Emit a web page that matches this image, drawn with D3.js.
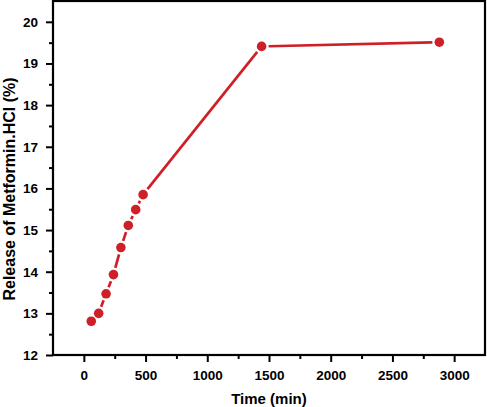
<!DOCTYPE html>
<html lang="en">
<head>
  <meta charset="UTF-8">
  <title>Release of Metformin.HCl</title>
  <script src="https://d3js.org/d3.v7.min.js"></script>
  <style>
    body { margin: 0; background: #fff; }
    svg { display: block; font-family: "Liberation Sans", Arial, sans-serif; font-weight: bold; }
    .axis path { display: none; }
    .axis line { stroke: #000; stroke-width: 2; }
    .axis text { font-size: 13.5px; font-weight: bold; fill: #000; font-family: "Liberation Sans", Arial, sans-serif; }
  </style>
</head>
<body>
  <svg id="chart" width="487" height="407"></svg>

  <script>
    // release data
    const timeMin = [60, 120, 180, 240, 300, 360, 420, 480, 1440, 2880];
    const releasePct = [12.81, 13.0, 13.47, 13.93, 14.58, 15.11, 15.49, 15.85, 19.41, 19.51];
    const xTicks = [0, 500, 1000, 1500, 2000, 2500, 3000];
    const yTicks = [12, 13, 14, 15, 16, 17, 18, 19, 20];

    const red = "#cf1f28";
    const svg = d3.select("#chart");
    const margin = { top: 1, right: 2, bottom: 52, left: 53 };
    const width = 487 - margin.left - margin.right;
    const height = 407 - margin.top - margin.bottom;

    const x = d3.scaleLinear().domain([-250, 3250]).range([margin.left, margin.left + width]);
    const y = d3.scaleLinear().domain([12, 20.5]).range([margin.top + height, margin.top]);

    // minor ticks halfway between the major ones
    const xMinor = xTicks.map(d => d + 250).filter(d => d < 3250);
    const yMinor = yTicks.map(d => d + 0.5).filter(d => d < 20.5);

    svg.append("g")
      .attr("class", "axis")
      .attr("transform", `translate(0,${margin.top + height})`)
      .call(d3.axisBottom(x).tickValues(xTicks).tickSize(7).tickPadding(8).tickFormat(d3.format("d")));

    svg.append("g")
      .attr("class", "axis")
      .attr("transform", `translate(0,${margin.top + height})`)
      .call(d3.axisBottom(x).tickValues(xMinor).tickSize(4).tickFormat(""));

    svg.append("g")
      .attr("class", "axis")
      .attr("transform", `translate(${margin.left},0)`)
      .call(d3.axisLeft(y).tickValues(yTicks).tickSize(7).tickPadding(8).tickFormat(d3.format("d")));

    svg.append("g")
      .attr("class", "axis")
      .attr("transform", `translate(${margin.left},0)`)
      .call(d3.axisLeft(y).tickValues(yMinor).tickSize(4).tickFormat(""));

    // frame
    svg.append("rect")
      .attr("x", margin.left)
      .attr("y", margin.top)
      .attr("width", width)
      .attr("height", height)
      .attr("fill", "none")
      .attr("stroke", "#000")
      .attr("stroke-width", 2.2);

    // line segments with a gap around each symbol
    const r = 4.8, gap = 7;
    const pts = timeMin.map((t, i) => [x(t), y(releasePct[i])]);
    for (let i = 0; i < pts.length - 1; i++) {
      const [x0, y0] = pts[i], [x1, y1] = pts[i + 1];
      const len = Math.hypot(x1 - x0, y1 - y0);
      if (len <= 2 * gap) continue;
      const ux = (x1 - x0) / len, uy = (y1 - y0) / len;
      svg.append("line")
        .attr("x1", x0 + ux * gap).attr("y1", y0 + uy * gap)
        .attr("x2", x1 - ux * gap).attr("y2", y1 - uy * gap)
        .attr("stroke", red)
        .attr("stroke-width", 2.7);
    }

    svg.selectAll("circle.pt")
      .data(timeMin)
      .enter()
      .append("circle")
      .attr("class", "pt")
      .attr("cx", d => x(d))
      .attr("cy", (d, i) => y(releasePct[i]))
      .attr("r", r)
      .attr("fill", red);

    // axis titles
    svg.append("text")
      .attr("x", 269)
      .attr("y", 404)
      .attr("text-anchor", "middle")
      .style("font-size", "15px")
      .text("Time (min)");

    svg.append("text")
      .attr("transform", "translate(15,189) rotate(-90)")
      .attr("text-anchor", "middle")
      .style("font-size", "16px")
      .text("Release of Metformin.HCl (%)");
  </script>
</body>
</html>
